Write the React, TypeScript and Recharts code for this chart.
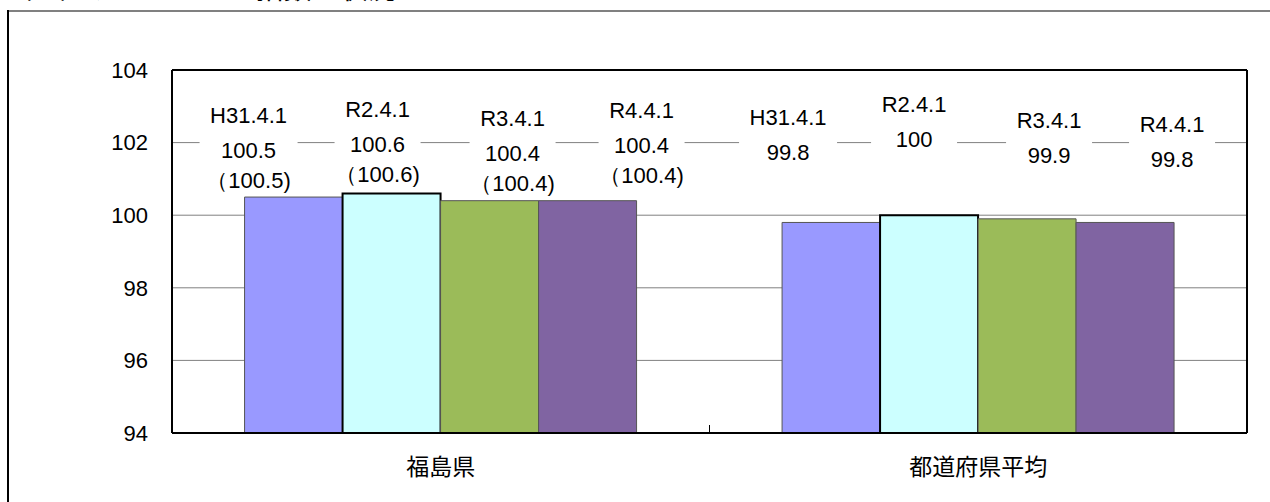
import {
  Bar,
  BarChart,
  CartesianGrid,
  LabelList,
  ReferenceLine,
  XAxis,
  YAxis,
} from "recharts";

// ---- data ----
const categories = ["福島県", "都道府県平均"];
const surveyDates = ["H31.4.1", "R2.4.1", "R3.4.1", "R4.4.1"];
const fukushima = [100.5, 100.6, 100.4, 100.4];
// figures printed in brackets under the Fukushima values
const fukushimaBracket = [100.5, 100.6, 100.4, 100.4];
const prefAverage = [99.8, 100, 99.9, 99.8];
const yTicks = [94, 96, 98, 100, 102, 104];

const seriesKeys = ["s0", "s1", "s2", "s3"];
const seriesColors = ["#9999ff", "#ccffff", "#9bbb59", "#8064a2"];

const rows = categories.map((name, c) => {
  const vals = c === 0 ? fukushima : prefAverage;
  const row: Record<string, string | number> = { name };
  seriesKeys.forEach((k, i) => {
    row[k] = vals[i];
  });
  return row;
});

// hand-placed label boxes (as in the original sheet): [dx, dy] from bar centre / top
const LABEL_NUDGE: [number, number][][] = [
  [[-45, -82], [-43, -105]],
  [[-14, -84], [-15, -111]],
  [[23, -82], [22, -99]],
  [[54, -90], [47, -98]],
];

const NUM_FONT = "'Liberation Sans', Arial, sans-serif";
const JP_FONT = "'Noto Sans CJK JP', sans-serif";
const CAT_TICK_MARGIN = 26;

function makeLabel(si: number) {
  return (props: any) => {
    const x = Number(props.x);
    const y = Number(props.y);
    const w = Number(props.width);
    const idx = Number(props.index);
    const [dx, dy] = LABEL_NUDGE[si][idx];
    const cx = x + w / 2 + dx;
    const top = y + dy;
    const lines = [surveyDates[si], String(props.value)];
    if (idx === 0) lines.push(`（${fukushimaBracket[si]})`);
    const ys = [top, top + 35, top + 65].slice(0, lines.length);
    const boxW = surveyDates[si].length * 12 + 14;
    return (
      <g>
        <rect
          x={cx - boxW / 2}
          y={top - 14}
          width={boxW}
          height={ys[ys.length - 1] - top + 28}
          fill="#fff"
        />
        {lines.map((t, i) => (
          <text
            key={i}
            x={cx}
            y={ys[i]}
            dy="0.35em"
            textAnchor="middle"
            fontSize={22}
            fontFamily={NUM_FONT}
            fill="#000"
          >
            {t}
          </text>
        ))}
      </g>
    );
  };
}

// category label plus the small inside tick mark between the two groups
function CategoryTick(props: any) {
  const { x, y, payload, index } = props;
  const axisY = y - CAT_TICK_MARGIN;
  const half = Number(payload?.offset) || 0;
  return (
    <g>
      {index === 0 && half > 0 && (
        <line
          x1={x + half}
          x2={x + half}
          y1={axisY}
          y2={axisY - 8}
          stroke="#000"
          strokeWidth={1}
        />
      )}
      <text
        x={x}
        y={y}
        dy="0.71em"
        textAnchor="middle"
        fontSize={23}
        fontFamily={JP_FONT}
        fill="#000"
      >
        {payload.value}
      </text>
    </g>
  );
}

export default function App() {
  return (
    <div
      style={{
        position: "fixed",
        left: 0,
        top: 0,
        width: 1270,
        height: 502,
        background: "#fff",
        overflow: "hidden",
      }}
    >
      <svg
        width={1270}
        height={502}
        style={{ position: "absolute", left: 0, top: 0 }}
      >
        <text x={4} y={-1} fontSize={28} fontFamily={JP_FONT} fill="#000">
          （２）ラスパイレス指数の状況
        </text>
        <line x1={8} y1={11} x2={1270} y2={11} stroke="#808080" strokeWidth={2} />
        <line x1={8} y1={10} x2={8} y2={502} stroke="#000" strokeWidth={2} />
      </svg>
      <div style={{ position: "absolute", left: 0, top: 0 }}>
        <BarChart
          width={1270}
          height={502}
          data={rows}
          margin={{ top: 70, right: 0, bottom: 0, left: 0 }}
          barCategoryGap="13.5%"
          barGap={0}
        >
          <CartesianGrid vertical={false} stroke="#808080" strokeWidth={1} />
          <XAxis
            dataKey="name"
            height={69}
            axisLine={{ stroke: "#000", strokeWidth: 2 }}
            tickLine={false}
            tickSize={0}
            tickMargin={CAT_TICK_MARGIN}
            tick={<CategoryTick />}
          />
          <YAxis
            domain={[94, 104]}
            ticks={yTicks}
            width={172}
            axisLine={{ stroke: "#000", strokeWidth: 2 }}
            tickLine={false}
            tickSize={0}
            tickMargin={24}
            tick={{ fontSize: 22, fontFamily: NUM_FONT, fill: "#000" }}
          />
          <YAxis
            yAxisId="r"
            orientation="right"
            domain={[94, 104]}
            width={23}
            axisLine={{ stroke: "#000", strokeWidth: 2 }}
            tickLine={false}
            tick={false}
          />
          <ReferenceLine y={104} stroke="#000" strokeWidth={2} />
          {seriesKeys.map((k, i) => (
            <Bar
              key={k}
              dataKey={k}
              fill={seriesColors[i]}
              stroke={i === 1 ? "#000" : "#555"}
              strokeWidth={i === 1 ? 2 : 1}
              isAnimationActive={false}
            >
              <LabelList dataKey={k} content={makeLabel(i)} />
            </Bar>
          ))}
        </BarChart>
      </div>
    </div>
  );
}
